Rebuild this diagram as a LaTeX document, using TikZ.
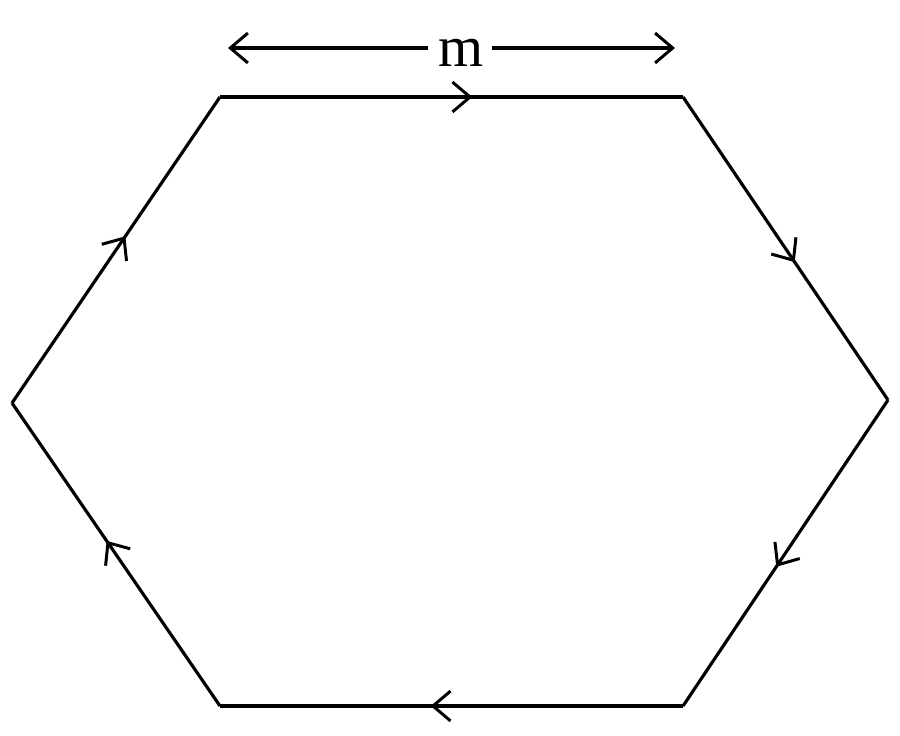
\documentclass[tikz,border=0pt]{standalone}
\usepackage{fontspec}
\setmainfont{Liberation Serif}
\usetikzlibrary{arrows.meta,decorations.markings}
\tikzset{
	edgearrow/.style={postaction={decorate},decoration={markings,mark=at position 0.545 with {\arrow{>}}}},
}
\begin{document}
\begin{tikzpicture}[>={Straight Barb[length=10pt,width=17pt,line width=1.7pt]},line join=miter,line cap=butt,x=0.02cm,y=-0.02cm,line width=1.8pt]
	\useasboundingbox (0,0) rectangle (900,736);
	% Đỉnh lục giác
	\coordinate (A) at (220,97);
	\coordinate (B) at (683,97);
	\coordinate (C) at (888,400);
	\coordinate (D) at (683,706);
	\coordinate (E) at (220,706);
	\coordinate (F) at (12,403);
	\draw[edgearrow] (A) -- (B);
	\draw[edgearrow] (B) -- (C);
	\draw[edgearrow] (C) -- (D);
	\draw[edgearrow] (D) -- (E);
	\draw[edgearrow] (E) -- (F);
	\draw[edgearrow] (F) -- (A);
	% Kích thước m
	\coordinate (P) at (228,48);
	\coordinate (Q) at (675,48);
	\coordinate (P1) at (428,48);
	\coordinate (Q1) at (492,48);
	\node[anchor=base] (m) at (461,67) {\fontsize{33}{36}\selectfont m};
	\draw[->] (P1) -- (P);
	\draw[->] (Q1) -- (Q);
\end{tikzpicture}
\end{document}
